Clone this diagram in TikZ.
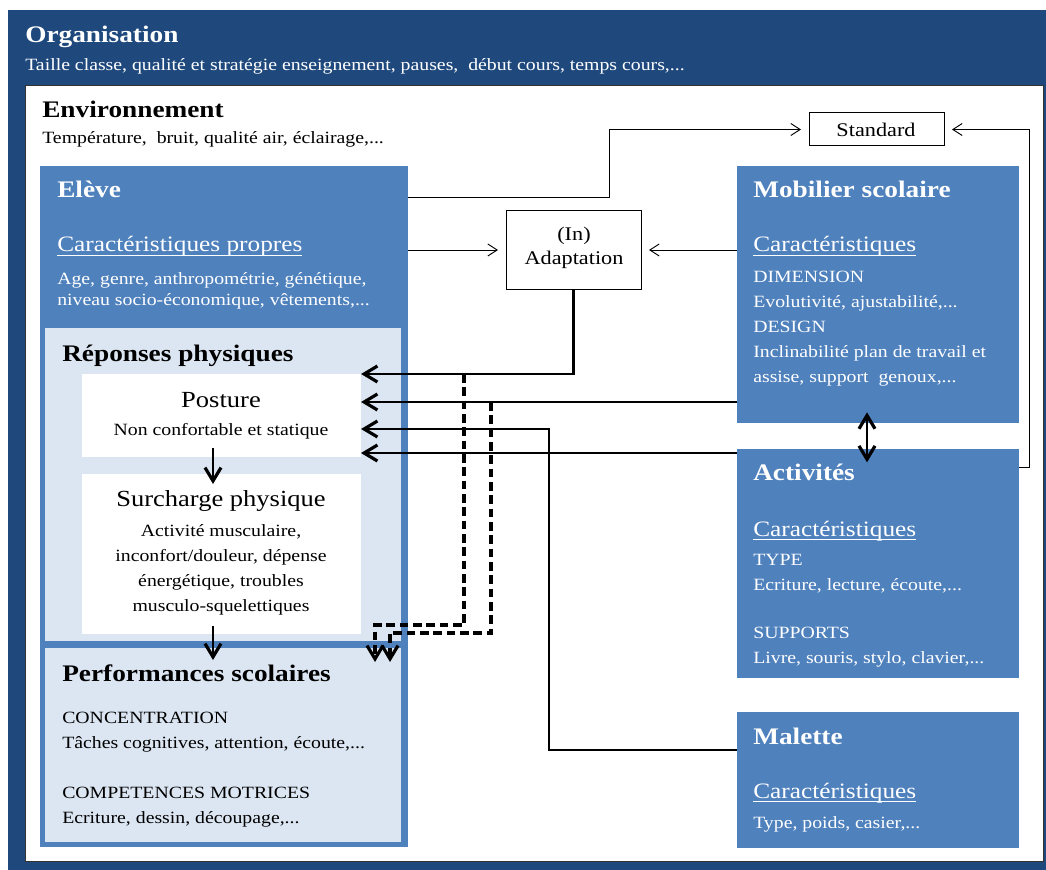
\documentclass[tikz,border=0pt]{standalone}
\usepackage{fontspec}
\setmainfont{Liberation Serif}[FakeStretch=1.15]
\usetikzlibrary{arrows.meta,fit,positioning}
\definecolor{xOrgBlue}{RGB}{31,73,125}
\definecolor{xBoxBlue}{RGB}{79,129,189}
\definecolor{xLightBox}{RGB}{220,230,242}
\newcommand{\ulin}[1]{\vtop{\hbox{\smash{#1}}\kern2.2pt\hrule height 0.6pt}}

\begin{document}
\begin{tikzpicture}[x=0.75pt,y=-0.75pt,
    box/.style={inner sep=0pt, outer sep=0pt},
    ttl/.style={anchor=base west, inner sep=0pt, font=\fontsize{17.8}{21}\selectfont\bfseries},
    txt/.style={anchor=base west, inner sep=0pt, align=left, font=\fontsize{12.9}{18.75}\selectfont},
    txtc/.style={txt, anchor=base, align=center},
    car/.style={anchor=base west, inner sep=0pt, font=\fontsize{16.5}{20}\selectfont},
    post/.style={anchor=base, inner sep=0pt, font=\fontsize{17.3}{21}\selectfont},
    frm/.style={box, draw, line width=0.75pt},
    lbl/.style={anchor=base, inner sep=0pt, font=\fontsize{14.5}{19.5}\selectfont},
    thinarr/.style={-{Straight Barb[length=7pt,width=9pt]}, line width=0.7pt, shorten >=6pt},
    thickarr/.style={-{Straight Barb[length=10pt,width=12pt,line width=2.4pt]}, line width=2.2pt},
    dasharr/.style={thickarr, line width=2.4pt, dash pattern=on 6.5pt off 3.5pt}]
    \useasboundingbox (0,0) rectangle (1046,870);

    % frames
    \node[box, fill=xOrgBlue, fit={(8,10) (1046,870)}] (org) {};
    \node[box, fill=white, draw=black!80, line width=0.75pt, fit={(25,86) (1043,861)}] (envir) {};

    % eleve column
    \node[box, fill=xBoxBlue, fit={(40,166) (408,847)}] (eleve) {};
    \node[box, fill=xLightBox, fit={(45,328) (401,641)}] (repons) {};
    \node[box, fill=xLightBox, fit={(45,648) (401,842)}] (perf) {};
    \node[box, fill=white, fit={(82,374) (361,457)}] (posture) {};
    \node[box, fill=white, fit={(82,474) (361,634)}] (surch) {};

    % right column
    \node[box, fill=xBoxBlue, fit={(737,166) (1019,423)}] (mobil) {};
    \node[box, fill=xBoxBlue, fit={(737,449) (1019,678)}] (activ) {};
    \node[box, fill=xBoxBlue, fit={(737,712) (1019,848)}] (malet) {};

    \node[frm, fit={(809,113) (944,146)}] (standard) {};
    \node[frm, fit={(506,211) (641,289)}] (adapt) {};
    \node[lbl] (standardT) at (876,137) {Standard};
    \node[lbl] (adaptA) at (574,240) {(In)};
    \node[lbl] (adaptB) at (574,264) {Adaptation};

    % texts
    \node[ttl, text=white] (orgT) at (25,43) {Organisation};
    \node[txt, text=white] (orgD) at (25,71) {Taille classe, qualité et stratégie enseignement, pauses,\ \ début cours, temps cours,...};
    \node[ttl] (envT) at (42,118) {Environnement};
    \node[txt] (envD) at (42,144) {Température,\ \ bruit, qualité air, éclairage,...};

    \node[ttl, text=white] (eleveT) at (57,198) {Elève};
    \node[car, text=white] (eleveC) at (57,252) {\ulin{Caractéristiques propres}};
    \node[txt, text=white] (eleveD) at (57,305) {Age, genre, anthropométrie, génétique,\\[-3pt]niveau socio-économique, vêtements,...};

    \node[ttl] (reponsT) at (62,361) {Réponses physiques};
    \node[post] (postureT) at (221,407) {Posture};
    \node[txtc] (postureD) at (221,435) {Non confortable et statique};
    \node[post] (surchT) at (221,506) {Surcharge physique};
    \node[txtc] (surchD) at (221,611) {Activité musculaire,\\inconfort/douleur,\ dépense\\énergétique, troubles\\musculo-squelettiques};

    \node[ttl] (perfT) at (62,681) {Performances scolaires};
    \node[txt] (perfD) at (62,823) {CONCENTRATION\\Tâches cognitives, attention, écoute,...\\[18.75pt]COMPETENCES MOTRICES\\Ecriture, dessin, découpage,...};

    \node[ttl, text=white] (mobilT) at (753,198) {Mobilier scolaire};
    \node[car, text=white] (mobilC) at (753,252) {\ulin{Caractéristiques}};
    \node[txt, text=white] (mobilD) at (753,382) {DIMENSION\\Evolutivité, ajustabilité,...\\DESIGN\\Inclinabilité plan de travail et\\assise, support\ \ genoux,...};

    \node[ttl, text=white] (activT) at (753,480) {Activités};
    \node[car, text=white] (activC) at (753,536) {\ulin{Caractéristiques}};
    \node[txt, text=white] (activD) at (753,663) {TYPE\\Ecriture, lecture, écoute,...\\[17.25pt]SUPPORTS\\Livre, souris, stylo, clavier,...};

    \node[ttl, text=white] (maletT) at (753,744) {Malette};
    \node[car, text=white] (maletC) at (753,798) {\ulin{Caractéristiques}};
    \node[txt, text=white] (maletD) at (753,828) {Type, poids, casier,...};

    % thin connectors
    \draw[thinarr] (eleve.east |- 0,197) -- (609,197) |- (standard.west);
    \draw[thinarr] (activ.east |- 0,467) -- (1029,467) |- (standard.east);
    \draw[thinarr] (eleve.east |- adapt.west) -- (adapt.west);
    \draw[thinarr] (mobil.west |- adapt.east) -- (adapt.east);

    % thick connectors
    \draw[thickarr] (adapt.south) |- (posture.east |- 0,374);
    \draw[thickarr] (mobil.west |- 0,402) -- (posture.east |- 0,402);
    \draw[thickarr] (malet.west |- 0,750) -| (549,429) -- (posture.east |- 0,429);
    \draw[thickarr] (activ.west |- 0,453) -- (posture.east |- 0,453);

    \coordinate (dashA) at (464,374);
    \coordinate (dashB) at (491,402);
    \coordinate (tipA) at (375,662);
    \coordinate (tipB) at (390,662);
    \draw[dasharr] (dashA) |- (375,625) -- (tipA);
    \draw[dasharr] (dashB) |- (390,633) -- (tipB);

    \draw[thickarr] ([yshift=7pt]posture.south -| 213,0) -- ([yshift=-7.5pt]surch.north -| 213,0);
    \draw[thickarr] ([yshift=6pt]surch.south -| 213,0) -- ([yshift=-9pt]perf.north -| 213,0);
    \draw[thickarr, {Straight Barb[length=10pt,width=12pt,line width=2.4pt]}-{Straight Barb[length=10pt,width=12pt,line width=2.4pt]}] ([yshift=8pt]mobil.south -| 867,0) -- ([yshift=-10pt]activ.north -| 867,0);
\end{tikzpicture}
\end{document}
